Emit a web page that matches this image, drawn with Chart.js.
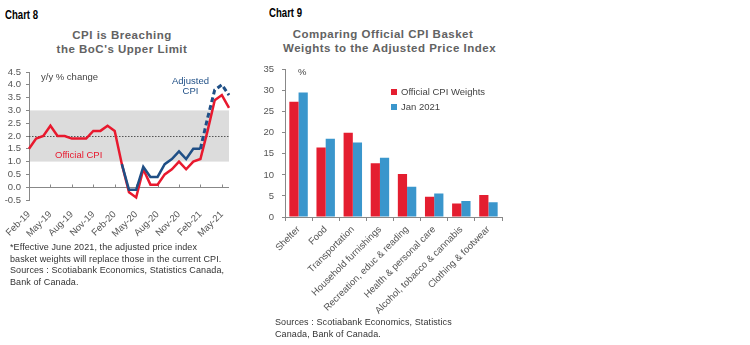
<!DOCTYPE html>
<html>
<head>
<meta charset="utf-8">
<script src="https://cdn.jsdelivr.net/npm/chart.js@4/dist/chart.umd.min.js"></script>
<style>
	body { margin: 0; background: #fff; font-family: 'Liberation Sans', Arial, sans-serif; }
	#page { position: relative; width: 750px; height: 345px; overflow: hidden; }
	.abs { position: absolute; white-space: nowrap; }
	.num { font-family: 'Liberation Sans', sans-serif; font-weight: bold; font-size: 12px; color: #000; transform: scaleX(0.8); transform-origin: left top; }
	.title { font-weight: bold; font-size: 11.5px; color: #626262; letter-spacing: 0.5px; text-align: center; line-height: 14px; }
	.note { font-size: 9px; color: #333; line-height: 11.5px; letter-spacing: 0.1px; }
	.lbl { font-size: 9.5px; color: #444; }
	.sw { display: inline-block; width: 6px; height: 6px; margin-right: 4px; vertical-align: 0px; }
	canvas { position: absolute; }
</style>
</head>
<body>
<div id="page">
	<div class="abs num" style="left:5px; top:8px;">Chart 8</div>
	<div class="abs title" style="left:22px; top:28px; width:200px;">CPI is Breaching<br>the BoC's Upper Limit</div>
	<canvas id="cpi" width="240" height="185" style="left:0; top:60px;"></canvas>
	<div class="abs lbl" style="left:41px; top:71px;">y/y % change</div>
	<div class="abs lbl" style="left:55px; top:149px; color:#e8192e;">Official CPI</div>
	<div class="abs lbl" style="left:172px; top:76px; color:#1f4f86; text-align:center; line-height:10px;">Adjusted<br>CPI</div>
	<div class="abs note" style="left:10px; top:242px;">*Effective June 2021, the adjusted price index<br>basket weights will replace those in the current CPI.<br>Sources : Scotiabank Economics, Statistics Canada,<br>Bank of Canada.</div>

	<div class="abs num" style="left:269px; top:6px;">Chart 9</div>
	<div class="abs title" style="left:283px; top:27px; width:200px;">Comparing Official CPI Basket<br>Weights to the Adjusted Price Index</div>
	<canvas id="weights" width="250" height="262" style="left:260px; top:56px;"></canvas>
	<div class="abs lbl" style="left:298px; top:66px;">%</div>
	<div class="abs lbl" style="left:391px; top:84px; line-height:15px;"><span class="sw" style="background:#e41e30"></span>Official CPI Weights<br><span class="sw" style="background:#3a96cc"></span>Jan 2021</div>
	<div class="abs note" style="left:275px; top:317px;">Sources : Scotiabank Economics, Statistics<br>Canada, Bank of Canada.</div>
</div>
<script>
const months = ['Feb-19','Mar-19','Apr-19','May-19','Jun-19','Jul-19','Aug-19','Sep-19','Oct-19','Nov-19','Dec-19','Jan-20',
	'Feb-20','Mar-20','Apr-20','May-20','Jun-20','Jul-20','Aug-20','Sep-20','Oct-20','Nov-20','Dec-20','Jan-21',
	'Feb-21','Mar-21','Apr-21','May-21','Jun-21'];
const officialCPI = [1.5, 1.9, 2.0, 2.4, 2.0, 2.0, 1.9, 1.9, 1.9, 2.2, 2.2, 2.4,
	2.2, 0.9, -0.2, -0.4, 0.7, 0.1, 0.1, 0.5, 0.7, 1.0, 0.7, 1.0,
	1.1, 2.2, 3.4, 3.6, 3.1];
const adjustedCPI = [null, null, null, null, null, null, null, null, null, null, null, null,
	null, 0.9, -0.1, -0.1, 0.8, 0.4, 0.4, 0.9, 1.1, 1.4, 1.1, 1.5,
	1.5, 2.7, 3.8, 4.0, 3.6];
const adjustedDashFrom = 24; // Feb-21 onward is estimated
const targetBand = [1, 3];
const targetMid = 2;

const categories = ['Shelter', 'Food', 'Transportation', 'Household furnishings', 'Recreation, educ & reading',
	'Health & personal care', 'Alcohol, tobacco & cannabis', 'Clothing & footwear'];
const officialWeights = [27.4, 16.5, 20.0, 12.8, 10.2, 4.8, 3.2, 5.2];
const jan2021Weights = [29.6, 18.6, 17.7, 14.1, 7.2, 5.6, 3.8, 3.5];

const RED = '#e8192e';
const NAVY = '#1f4f86';
const tickFont = { family: "'Liberation Sans', Arial, sans-serif", size: 9.5 };
const tickColor = '#555';

const bandPlugin = {
	id: 'band',
	beforeDatasetsDraw(chart) {
		const { ctx, chartArea: a, scales: { x, y } } = chart;
		const top = y.getPixelForValue(targetBand[1]);
		const bot = y.getPixelForValue(targetBand[0]);
		ctx.save();
		ctx.fillStyle = '#dcdcdc';
		ctx.fillRect(a.left + 1, top, a.right - a.left - 1, bot - top);
		ctx.strokeStyle = '#555';
		ctx.lineWidth = 1;
		ctx.setLineDash([1.5, 1.5]);
		const mid = Math.round(y.getPixelForValue(targetMid)) + 0.5;
		ctx.beginPath();
		ctx.moveTo(a.left, mid);
		ctx.lineTo(a.right, mid);
		ctx.stroke();
		ctx.setLineDash([]);
		const z = Math.round(y.getPixelForValue(0)) + 0.5;
		ctx.strokeStyle = '#888';
		ctx.beginPath();
		ctx.moveTo(a.left, z);
		ctx.lineTo(a.right, z);
		x.ticks.forEach((t, i) => {
			if (i % 3 === 0 && i > 0) {
				const px = Math.round(x.getPixelForTick(i)) + 0.5;
				ctx.moveTo(px, z);
				ctx.lineTo(px, z - 3);
			}
		});
		ctx.stroke();
		ctx.restore();
	}
};

new Chart(document.getElementById('cpi'), {
	type: 'line',
	data: {
		labels: months,
		datasets: [
			{
				data: adjustedCPI,
				borderColor: NAVY,
				borderWidth: 2.5,
				pointRadius: 0,
				tension: 0,
				segment: {
					borderDash: (c) => c.p0DataIndex >= adjustedDashFrom ? [5, 3] : undefined,
					borderWidth: (c) => c.p0DataIndex >= adjustedDashFrom ? 3 : 2.5,
				},
			},
			{
				data: officialCPI,
				borderColor: RED,
				borderWidth: 2.5,
				pointRadius: 0,
				tension: 0,
			},
		],
	},
	options: {
		responsive: false,
		animation: false,
		layout: { padding: { top: 12, right: 11, left: 0, bottom: 0 } },
		plugins: { legend: { display: false }, tooltip: { enabled: false } },
		scales: {
			x: {
				grid: { display: false },
				border: { display: false },
				ticks: {
					autoSkip: false,
					minRotation: 45,
					maxRotation: 45,
					padding: 1,
					font: tickFont,
					color: tickColor,
					callback: (v, i) => (i % 3 === 0 ? months[i] : ''),
				},
				afterFit: (s) => { s.height = 45; },
			},
			y: {
				min: -0.5,
				max: 4.5,
				ticks: {
					autoSkip: false,
					stepSize: 0.5,
					font: tickFont,
					color: tickColor,
					padding: 5,
					callback: (v) => v.toFixed(1),
				},
				grid: { drawOnChartArea: false, tickLength: 3, tickColor: '#888' },
				border: { color: '#888' },
				afterFit: (s) => { s.width = 29; },
			},
		},
	},
	plugins: [bandPlugin],
});

new Chart(document.getElementById('weights'), {
	type: 'bar',
	data: {
		labels: categories,
		datasets: [
			{ label: 'Official CPI Weights', data: officialWeights, backgroundColor: '#e41e30' },
			{ label: 'Jan 2021', data: jan2021Weights, backgroundColor: '#3a96cc' },
		],
	},
	options: {
		responsive: false,
		animation: false,
		layout: { padding: { top: 11, right: 8, left: 0, bottom: 0 } },
		plugins: { legend: { display: false }, tooltip: { enabled: false } },
		datasets: { bar: { categoryPercentage: 0.68, barPercentage: 1.0 } },
		scales: {
			x: {
				grid: { drawOnChartArea: false, tickLength: 4, tickColor: '#888', offset: true },
				border: { color: '#888' },
				ticks: {
					autoSkip: false,
					minRotation: 45,
					maxRotation: 45,
					padding: 3,
					font: tickFont,
					color: tickColor,
				},
				afterFit: (s) => { s.height = 101; },
			},
			y: {
				min: 0,
				max: 35,
				ticks: { autoSkip: false, stepSize: 5, font: tickFont, color: tickColor, padding: 8 },
				grid: { drawOnChartArea: false, tickLength: 3, tickColor: '#888' },
				border: { color: '#888' },
				afterFit: (s) => { s.width = 25; },
			},
		},
	},
});
</script>
</body>
</html>
